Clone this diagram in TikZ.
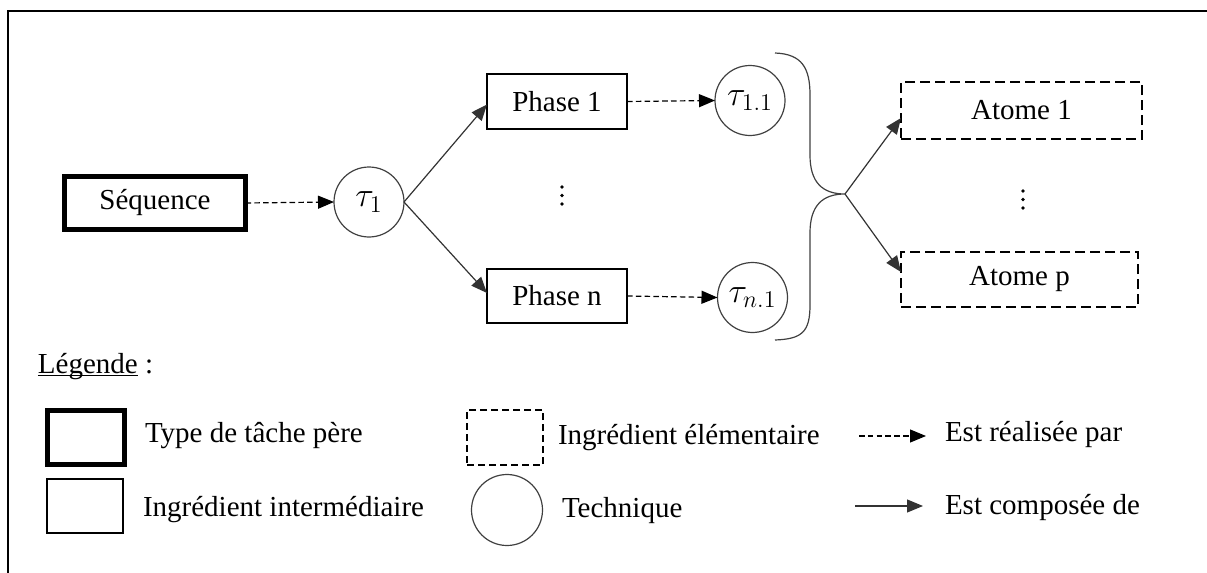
\documentclass[tikz,border=0pt]{standalone}
\usepackage{fontspec}
\setmainfont{Liberation Serif}
\usetikzlibrary{arrows.meta}
\begin{document}
\begin{tikzpicture}[x=0.5pt,y=-0.5pt,
  font=\fontsize{14.5pt}{17pt}\selectfont,
  every node/.style={inner sep=0pt, outer sep=0pt},
  thickbox/.style={draw, rectangle, line width=2.5pt},
  thinbox/.style={draw, rectangle, line width=1pt},
  dashbox/.style={draw, rectangle, line width=1pt, dash pattern=on 5pt off 2.5pt},
  techcirc/.style={draw=black!75, circle, line width=0.6pt, minimum size=35pt, font=\fontsize{17.5pt}{20pt}\selectfont},
  realise/.style={draw, line width=0.6pt, dash pattern=on 2.8pt off 1.6pt, -{Triangle[length=8pt,width=6.5pt]}},
  compose/.style={draw=black!80, line width=0.6pt, -{Triangle[length=8pt,width=6.5pt]}},
  lbl/.style={anchor=base west},
  dotmark/.style={circle, fill=black, minimum size=1.8pt},
]
\useasboundingbox (0,0) rectangle (1207,573);
% frame
\draw[line width=1.3pt] (8,580) -- (8,11) -- (1215,11);

% main diagram
\node[thickbox, minimum width=90.5pt, minimum height=26.5pt] (seq) at (155,203) {Séquence};
\node[techcirc] (t1) at (369,202) {$\tau_1$};
\node[thinbox, minimum width=70pt, minimum height=27.5pt] (p1) at (557,101.5) {Phase 1};
\node[thinbox, minimum width=70pt, minimum height=27pt] (pn) at (557,296) {Phase n};
\node[techcirc] (t11) at (750,100.5) {$\tau_{1.1}$};
\node[techcirc] (tn1) at (752.5,297.5) {$\tau_{n.1}$};
\node[dotmark] (d1a) at (562,187) {};
\node[dotmark] (d1b) at (562,195.5) {};
\node[dotmark] (d1c) at (562,204) {};
\node[dashbox, minimum width=120.5pt, minimum height=28.5pt] (a1) at (1021.5,110.5) {Atome 1};
\node[dashbox, minimum width=118.5pt, minimum height=27.5pt] (ap) at (1019.5,279.5) {Atome p};
\node[dotmark] (d2a) at (1023,191) {};
\node[dotmark] (d2b) at (1023,199.5) {};
\node[dotmark] (d2c) at (1023,208) {};
\coordinate (tip) at (845,194);

\draw[realise] (seq.east) -- (t1.west);
\draw[compose] (t1.east) -- ([yshift=-1.5pt]p1.west);
\draw[compose] (t1.east) -- ([yshift=1.5pt]pn.west);
\draw[realise] (p1.east) -- (t11.west);
\draw[realise] (pn.east) -- (tn1.west);

% brace
\draw[black!75, line width=0.6pt] (775,53) .. controls (802,54) and (810,68) .. (810,95)
  -- (810,155) .. controls (810,182) and (822,194) .. (tip)
  .. controls (822,194) and (810,206) .. (810,233)
  -- (810,305) .. controls (810,332) and (802,339) .. (775,340);

\draw[compose] (tip) -- ([yshift=-3.75pt]a1.west);
\draw[compose] (tip) -- ([yshift=3.75pt]ap.west);

% legend
\node[lbl] (leg) at (38,373) {\setbox0\hbox{Légende}\rlap{\rule[-1.4pt]{\wd0}{0.6pt}}\box0\ :};
\node[thickbox, minimum width=38.5pt, minimum height=27pt] (lt) at (86,437.5) {};
\node[lbl] (ltt) at (145,442) {Type de tâche père};
\node[thinbox, minimum width=38pt, minimum height=27pt] (li) at (85,506) {};
\node[lbl] (lit) at (143,516) {Ingrédient intermédiaire};
\node[dashbox, dash pattern=on 3.5pt off 2pt, minimum width=38pt, minimum height=27.5pt] (le) at (505,437.5) {};
\node[lbl] (let) at (558,444) {Ingrédient élémentaire};
\node[techcirc, minimum size=35.5pt] (lc) at (507,510) {};
\node[lbl] (lct) at (562,517) {Technique};
\coordinate (r1) at (859,436);
\coordinate (r2) at (926,436);
\draw[realise] (r1) -- (r2);
\node[lbl] (lrt) at (945,441) {Est réalisée par};
\coordinate (c1) at (855,506);
\coordinate (c2) at (923,506);
\draw[compose] (c1) -- (c2);
\node[lbl] (lcpt) at (945,514) {Est composée de};
\end{tikzpicture}
\end{document}
